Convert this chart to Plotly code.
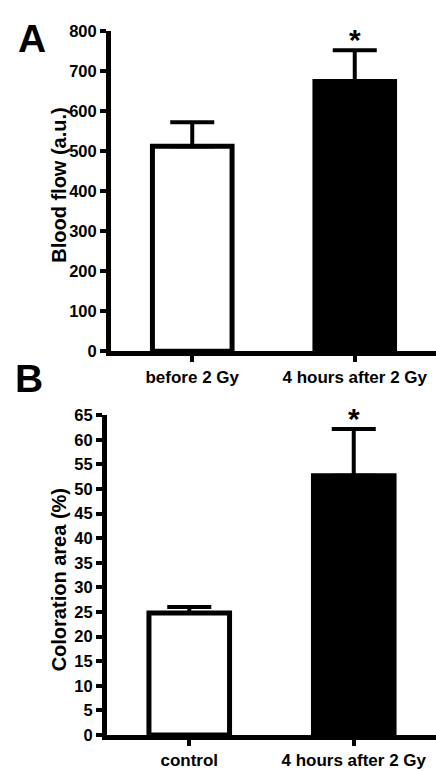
import plotly.graph_objects as go

W, H = 436, 771

# Panel A data
cats_a = ["before 2 Gy", "4 hours after 2 Gy"]
vals_a = [513, 675]
errs_a = [60, 78]

# Panel B data
cats_b = ["control", "4 hours after 2 Gy"]
vals_b = [24.8, 52.7]
errs_b = [1.2, 9.5]

bar_colors = ["white", "black"]
FONT = "Liberation Sans, Arial, sans-serif"


def px_x(x):
    return x / W


def px_y(y):
    return (H - y) / H


fig = go.Figure()

fig.add_trace(go.Bar(
    x=[0, 1], y=vals_a, width=0.49,
    marker=dict(color=bar_colors, line=dict(color="black", width=5)),
    error_y=dict(type="data", array=errs_a, arrayminus=[0, 0], symmetric=False,
                 thickness=4, width=22, color="black"),
    xaxis="x", yaxis="y", showlegend=False, hoverinfo="skip",
))
fig.add_trace(go.Bar(
    x=[0, 1], y=vals_b, width=0.49,
    marker=dict(color=bar_colors, line=dict(color="black", width=5)),
    error_y=dict(type="data", array=errs_b, arrayminus=[0, 0], symmetric=False,
                 thickness=4, width=22, color="black"),
    xaxis="x2", yaxis="y2", showlegend=False, hoverinfo="skip",
))

tickfont = dict(family=FONT, size=16.5, color="black", weight="bold")
xtickfont = dict(family=FONT, size=17, color="black", weight="bold")

common_x = dict(range=[-0.5, 1.5], showline=True, linewidth=5, linecolor="black",
                ticks="outside", ticklen=6, tickwidth=4, tickcolor="black",
                showgrid=False, zeroline=False, tickfont=xtickfont, tickmode="array",
                fixedrange=True)
common_y = dict(showline=True, linewidth=5, linecolor="black",
                ticks="outside", ticklen=6, tickwidth=4, tickcolor="black",
                showgrid=False, zeroline=False, tickfont=tickfont, fixedrange=True)

fig.update_layout(
    width=W, height=H,
    margin=dict(l=0, r=0, t=0, b=0),
    paper_bgcolor="white", plot_bgcolor="white",
    xaxis=dict(domain=[px_x(111), 1], anchor="y", tickvals=[0, 1], ticktext=cats_a, **common_x),
    yaxis=dict(domain=[px_y(350.5), px_y(23)], anchor="x", range=[0, 800], dtick=100, **common_y),
    xaxis2=dict(domain=[px_x(107), 1], anchor="y2", tickvals=[0, 1], ticktext=cats_b, **common_x),
    yaxis2=dict(domain=[px_y(743.3), px_y(416)], anchor="x2", range=[0, 65], dtick=5, **common_y),
)

annos = [
    dict(text="Blood flow (a.u.)", x=px_x(59), y=px_y(180), textangle=-90,
         font=dict(family=FONT, size=20, color="black", weight="bold")),
    dict(text="Coloration area (%)", x=px_x(59), y=px_y(585), textangle=-90,
         font=dict(family=FONT, size=20, color="black", weight="bold")),
    dict(text="A", x=px_x(32), y=px_y(30),
         font=dict(family=FONT, size=39, color="black", weight="bold")),
    dict(text="B", x=px_x(29), y=px_y(378),
         font=dict(family=FONT, size=39, color="black", weight="bold")),
]
for a in annos:
    a.update(xref="paper", yref="paper", xanchor="center", yanchor="middle", showarrow=False)
    fig.add_annotation(**a)

fig.add_annotation(text="*", x=1, y=vals_a[1] + errs_a[1], xref="x", yref="y",
                   yanchor="bottom", showarrow=False, yshift=-8,
                   font=dict(family=FONT, size=30, color="black", weight="bold"))
fig.add_annotation(text="*", x=1, y=vals_b[1] + errs_b[1], xref="x2", yref="y2",
                   yanchor="bottom", showarrow=False, yshift=-8,
                   font=dict(family=FONT, size=30, color="black", weight="bold"))

fig.write_html("out.html", config={"displayModeBar": False},
               post_script="document.body.style.margin='0';document.body.style.overflow='hidden';")
